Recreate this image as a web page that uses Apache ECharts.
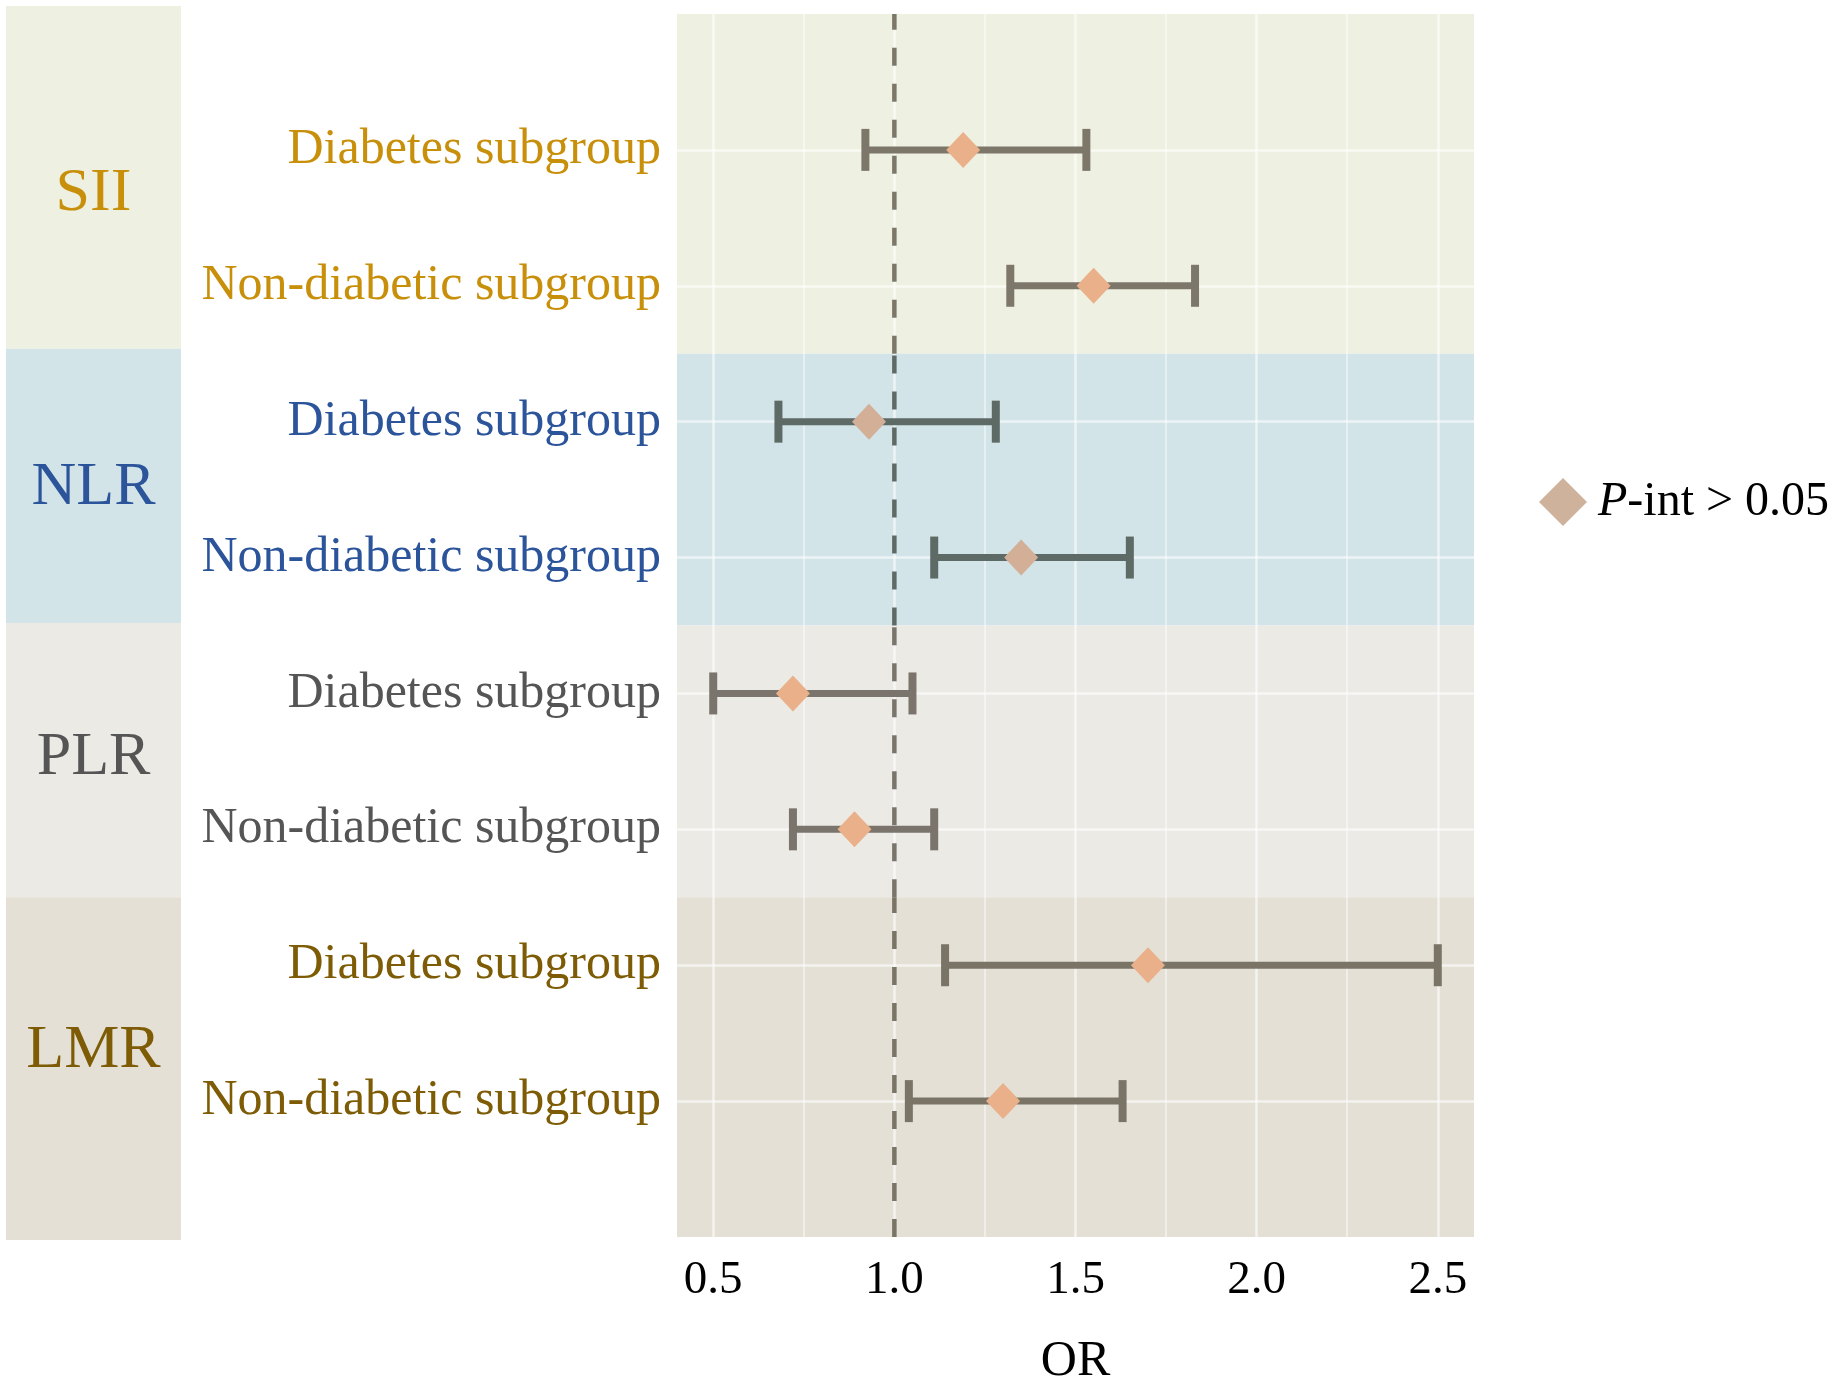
<!DOCTYPE html>
<html>
<head>
<meta charset="utf-8">
<script src="https://cdn.jsdelivr.net/npm/echarts@6/dist/echarts.min.js"></script>
<style>
html, body { margin: 0; padding: 0; background: #fff; }
#main { width: 1834px; height: 1392px; }
</style>
</head>
<body>
<div id="main"></div>
<script>
var groups = ['SII', 'NLR', 'PLR', 'LMR'];
var subgroups = ['Diabetes subgroup', 'Non-diabetic subgroup'];
// rows top to bottom: SII-D, SII-N, NLR-D, NLR-N, PLR-D, PLR-N, LMR-D, LMR-N
var orValues = [1.19, 1.55, 0.93, 1.35, 0.72, 0.89, 1.70, 1.30];
var ciLower = [0.92, 1.32, 0.68, 1.11, 0.50, 0.72, 1.14, 1.04];
var ciUpper = [1.53, 1.83, 1.28, 1.65, 1.05, 1.11, 2.50, 1.63];
var xTicks = [0.5, 1.0, 1.5, 2.0, 2.5];
var xMinor = [0.75, 1.25, 1.75, 2.25];
var legendName = 'P-int > 0.05';

var groupColor = ['#C8900A', '#2B549A', '#555555', '#7E5C05'];
var bandColor = ['#EEF0E1', '#D2E4E7', '#ECEAE5', '#E4E0D6'];
var barColor = ['#7D776A', '#5E6A66', '#7A746C', '#7A7466'];
var pointColor = ['#EAB08A', '#D3AF98', '#EAB08A', '#EAB08A'];
var stripLabelShift = [16, 2, -2, -18];
var serif = "'Liberation Serif', 'DejaVu Serif', serif";

var nRows = orValues.length;
function rowY(i) { return nRows - i; }

// band limits on the y scale (0..9)
function bandLo(g) { return g === groups.length - 1 ? 0 : nRows - 1.5 - 2 * g; }
function bandHi(g) { return g === 0 ? nRows + 1 : nRows + 0.5 - 2 * g; }

var stripAreas = [], panelAreas = [];
groups.forEach(function (name, g) {
    stripAreas.push([
        { yAxis: bandLo(g), name: name, itemStyle: { color: bandColor[g] },
          label: { color: groupColor[g], offset: [0, stripLabelShift[g]] } },
        { yAxis: bandHi(g) }
    ]);
    panelAreas.push([
        { yAxis: bandLo(g), itemStyle: { color: bandColor[g] } },
        { yAxis: bandHi(g) }
    ]);
});

var gridLines = [];
xTicks.forEach(function (v) {
    gridLines.push({ xAxis: v, lineStyle: { color: 'rgba(255,255,255,0.6)', width: 2.5, type: 'solid' } });
});
xMinor.forEach(function (v) {
    gridLines.push({ xAxis: v, lineStyle: { color: 'rgba(255,255,255,0.45)', width: 2, type: 'solid' } });
});
for (var r = 1; r <= nRows; r++) {
    gridLines.push({ yAxis: r, lineStyle: { color: 'rgba(255,255,255,0.6)', width: 2.5, type: 'solid' } });
}

var barData = [], pointData = [];
for (var i = 0; i < nRows; i++) {
    var g = Math.floor(i / 2);
    barData.push([ciLower[i], ciUpper[i], rowY(i)]);
    pointData.push({ value: [orValues[i], rowY(i)], itemStyle: { color: pointColor[g] } });
}

var rowRich = {};
groups.forEach(function (name, g) {
    rowRich['g' + g] = { color: groupColor[g], fontSize: 50, fontFamily: serif };
});

var refLines = groups.map(function (name, g) {
    return {
        type: 'line', xAxisIndex: 1, yAxisIndex: 1, z: 3, silent: true,
        symbol: 'none',
        data: [[1, bandLo(g)], [1, bandHi(g)]],
        lineStyle: { color: barColor[g], width: 4.5, type: [18, 18] }
    };
});

var myChart = echarts.init(document.getElementById('main'));

option = {
    backgroundColor: '#ffffff',
    animation: false,
    legend: {
        data: [legendName],
        left: 1534,
        top: 473,
        icon: 'diamond',
        itemWidth: 48,
        itemHeight: 48,
        itemGap: 10,
        formatter: function () { return '{p|P}-int > 0.05'; },
        textStyle: {
            fontSize: 48, fontFamily: serif, color: '#000',
            padding: [0, 0, 0, 6],
            rich: { p: { fontSize: 48, fontFamily: serif, fontStyle: 'italic', color: '#000' } }
        }
    },
    grid: [
        { left: 6, top: 6, width: 175, height: 1234 },
        { left: 677, top: 14, width: 797, height: 1234 }
    ],
    xAxis: [{
        gridIndex: 0, type: 'value', min: 0, max: 1, show: false
    }, {
        gridIndex: 1, type: 'value', min: 0.4, max: 2.6,
        axisLine: { show: false },
        axisTick: { show: false },
        splitLine: { show: false },
        axisLabel: {
            customValues: xTicks,
            formatter: function (v) { return v.toFixed(1); },
            fontSize: 47, fontFamily: serif, color: '#000', margin: 20
        },
        name: 'OR',
        nameLocation: 'middle',
        nameGap: 100,
        nameTextStyle: { fontSize: 50, fontFamily: serif, color: '#000' }
    }],
    yAxis: [{
        gridIndex: 0, type: 'value', min: 0, max: nRows + 1, show: false
    }, {
        gridIndex: 1, type: 'value', min: 0, max: nRows + 1,
        axisLine: { show: false },
        axisTick: { show: false },
        splitLine: { show: false },
        axisLabel: {
            customValues: [1, 2, 3, 4, 5, 6, 7, 8],
            margin: 16,
            formatter: function (v) {
                var i = nRows - v;
                return '{g' + Math.floor(i / 2) + '|' + subgroups[i % 2] + '}';
            },
            rich: rowRich
        }
    }],
    series: [{
        // side strip with the index names
        type: 'line', xAxisIndex: 0, yAxisIndex: 0, silent: true,
        data: [[0, 0]], showSymbol: false, lineStyle: { opacity: 0 },
        markArea: {
            silent: true, z: 0,
            label: { show: true, position: 'inside', fontSize: 62, fontFamily: serif },
            data: stripAreas
        }
    }, {
        // panel bands and grid lines
        type: 'line', xAxisIndex: 1, yAxisIndex: 1, silent: true, z: 1,
        data: [[1, 0]], showSymbol: false, lineStyle: { opacity: 0 },
        markArea: { silent: true, z: 0, data: panelAreas },
        markLine: { silent: true, z: 1, symbol: 'none', label: { show: false }, data: gridLines }
    }].concat(refLines).concat([{
        type: 'custom', xAxisIndex: 1, yAxisIndex: 1, z: 4, silent: true,
        data: barData,
        renderItem: function (params, api) {
            var y = api.value(2);
            var lo = api.coord([api.value(0), y]);
            var hi = api.coord([api.value(1), y]);
            var c = barColor[Math.floor(params.dataIndex / 2)];
            return {
                type: 'group',
                children: [
                    { type: 'line', shape: { x1: lo[0], y1: lo[1], x2: hi[0], y2: hi[1] },
                      style: { stroke: c, lineWidth: 7 } },
                    { type: 'line', shape: { x1: lo[0], y1: lo[1] - 21, x2: lo[0], y2: lo[1] + 21 },
                      style: { stroke: c, lineWidth: 8 } },
                    { type: 'line', shape: { x1: hi[0], y1: hi[1] - 21, x2: hi[0], y2: hi[1] + 21 },
                      style: { stroke: c, lineWidth: 8 } }
                ]
            };
        }
    }, {
        name: legendName,
        type: 'scatter', xAxisIndex: 1, yAxisIndex: 1, z: 5,
        symbol: 'diamond',
        symbolSize: [34, 36],
        itemStyle: { color: '#CFB29C', opacity: 1 },
        data: pointData
    }])
};

myChart.setOption(option);
</script>
</body>
</html>
